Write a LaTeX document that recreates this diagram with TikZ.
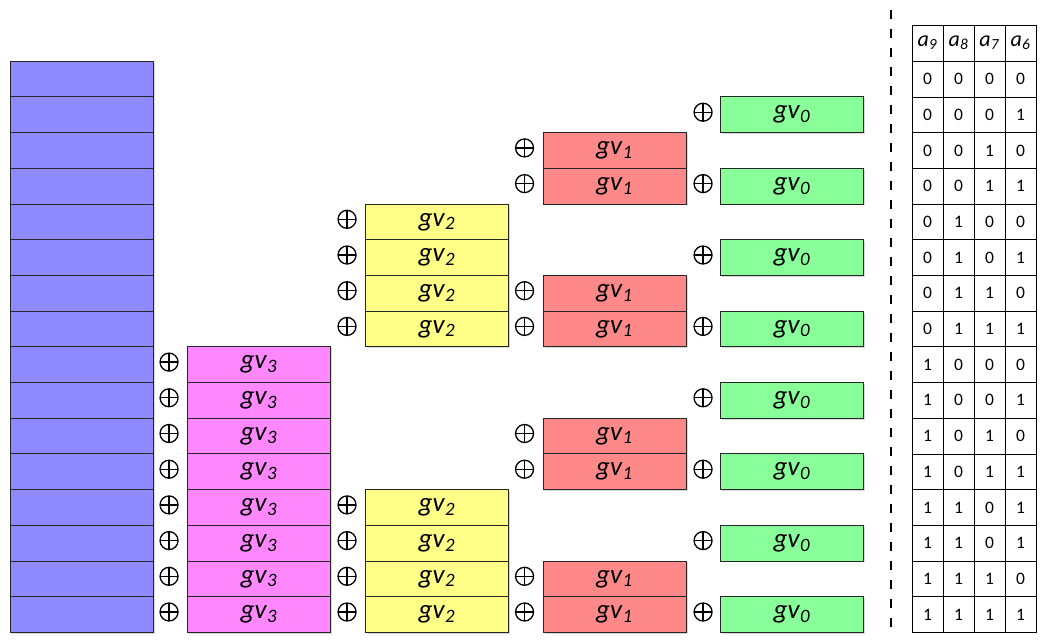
\documentclass[tikz,border=0pt]{standalone}
\usepackage{fontspec}
\setmainfont{Carlito}
\usetikzlibrary{shadows}
\definecolor{cblue}{RGB}{143,138,255}
\definecolor{cmag}{RGB}{255,136,255}
\definecolor{cyel}{RGB}{255,255,136}
\definecolor{cred}{RGB}{255,136,136}
\definecolor{cgrn}{RGB}{136,255,153}
\newcommand{\gvlabel}[1]{\textit{gv}\textsubscript{\textit{#1}}}
\newcommand{\alabel}[1]{\textit{a}\textsubscript{\textit{#1}}}
\begin{document}
\begin{tikzpicture}[x=1pt,y=-1pt,
  blk/.style={draw=black!85, line width=0.9pt, minimum width=143pt, minimum height=35.7pt,
    inner sep=0pt, font=\fontsize{27}{27}\selectfont,
    drop shadow={shadow xshift=1.5pt, shadow yshift=-1.5pt, opacity=0.3}},
  % exclusive-or sign: circle with a cross
  xo/.style={circle, draw=black, line width=1.3pt, minimum size=18pt, inner sep=0pt,
    path picture={\draw[line width=1.3pt]
      (path picture bounding box.north) -- (path picture bounding box.south)
      (path picture bounding box.west) -- (path picture bounding box.east);}},
  tcell/.style={draw=black, line width=0.6pt, minimum width=31pt, minimum height=35.7pt,
    inner sep=0pt, font=\fontsize{17.5}{17.5}\selectfont},
  hcell/.style={tcell, minimum height=36pt, font=\fontsize{22}{22}\selectfont}]
\useasboundingbox (0,0) rectangle (1041,641);
\fill[white] (0,0) rectangle (1041,641);

% left column of plain blocks
\foreach \i in {0,...,15}
  \node[blk, fill=cblue] (b\i) at (81.5,{79+35.7*\i}) {};

% gv3 column
\foreach \i in {8,...,15}{
  \node[blk, fill=cmag] (m\i) at (259,{79+35.7*\i}) {\gvlabel{3}};
  \node[xo] (pm\i) at ([xshift=-18pt,yshift=2.5pt]m\i.west) {};
}
% gv2 column
\foreach \i in {4,5,6,7,12,13,14,15}{
  \node[blk, fill=cyel] (y\i) at (437,{79+35.7*\i}) {\gvlabel{2}};
  \node[xo] (py\i) at ([xshift=-18pt,yshift=2.5pt]y\i.west) {};
}
% gv1 column
\foreach \i in {2,3,6,7,10,11,14,15}{
  \node[blk, fill=cred] (r\i) at (614.5,{79+35.7*\i}) {\gvlabel{1}};
  \node[xo] (pr\i) at ([xshift=-18pt,yshift=2.5pt]r\i.west) {};
}
% gv0 column
\foreach \i in {1,3,5,7,9,11,13,15}{
  \node[blk, fill=cgrn] (g\i) at (792,{79+35.7*\i}) {\gvlabel{0}};
  \node[xo] (pg\i) at ([xshift=-17pt,yshift=2.5pt]g\i.west) {};
}

% dashed separator
\coordinate (dtop) at (891,10);
\coordinate (dbot) at (891,632);
\draw[line width=2.2pt, dash pattern=on 9pt off 10pt] (dtop) -- (dbot);

% table header
\foreach \c/\n [count=\k from 0] in {927.5/9, 958.5/8, 989.5/7, 1020.5/6}
  \node[hcell] (h\k) at (\c,43) {\alabel{\n}};
\draw[line width=1.6pt] (h0.south west) -- (h3.south east);

% table body
\foreach \row [count=\r from 0] in {{0,0,0,0},{0,0,0,1},{0,0,1,0},{0,0,1,1},
    {0,1,0,0},{0,1,0,1},{0,1,1,0},{0,1,1,1},{1,0,0,0},{1,0,0,1},{1,0,1,0},
    {1,0,1,1},{1,1,0,1},{1,1,0,1},{1,1,1,0},{1,1,1,1}}{
  \foreach \v [count=\k from 0] in \row
    \node[tcell] (t\r-\k) at ({927.5+31*\k},{79+35.7*\r}) {\v};
}
\end{tikzpicture}
\end{document}
